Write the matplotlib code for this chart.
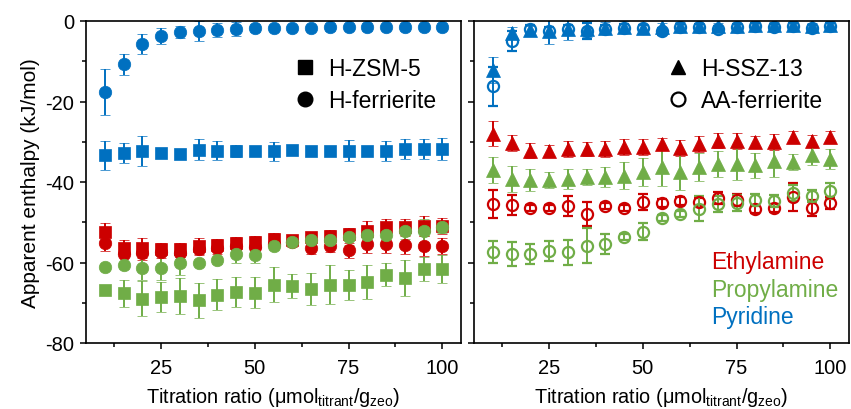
import matplotlib
matplotlib.use("Agg")
import matplotlib.pyplot as plt
from matplotlib.lines import Line2D

plt.rcParams['font.family'] = ['Liberation Sans', 'DejaVu Sans']
plt.rcParams['mathtext.fontset'] = 'custom'
plt.rcParams['mathtext.rm'] = 'Liberation Sans'
plt.rcParams['mathtext.it'] = 'Liberation Sans:italic'
plt.rcParams['axes.unicode_minus'] = False

RED = '#CC0000'
GREEN = '#70AD47'
BLUE = '#0070C0'

x = [10, 15, 20, 25, 30, 35, 40, 45, 50, 55, 60, 65, 70, 75, 80, 85, 90, 95, 100]

# ---- Left panel: H-ZSM-5 (squares) and H-ferrierite (circles)
pyr_hfer = [-17.7, -10.8, -5.7, -3.8, -2.8, -2.4, -2.2, -2.0, -1.7, -1.7, -1.7, -1.7, -1.5, -1.5, -1.4, -1.5, -1.4, -1.5, -1.4]
pyr_hfer_err = [5.7, 2.6, 2.4, 2.0, 1.5, 2.5, 1.7, 1.8, 1.0, 0.8, 0.8, 0.8, 1.0, 0.8, 1.0, 0.8, 1.0, 0.8, 0.8]
pyr_zsm = [-33.4, -32.8, -32.3, -32.8, -33.0, -32.0, -32.2, -32.2, -32.4, -32.4, -32.0, -32.2, -32.4, -32.2, -32.3, -32.2, -31.9, -31.8, -31.8]
pyr_zsm_err = [3.7, 2.5, 3.8, 0.8, 1.0, 2.6, 2.3, 1.5, 0.8, 2.4, 1.0, 0.7, 1.2, 2.6, 1.0, 2.5, 2.5, 2.5, 2.8]
eth_zsm = [-52.3, -56.5, -56.3, -56.6, -56.6, -55.9, -55.6, -55.1, -54.8, -54.1, -54.5, -53.7, -53.4, -52.9, -52.2, -51.3, -51.1, -50.9, -50.9]
eth_zsm_err = [2.0, 2.0, 2.5, 1.5, 1.5, 2.0, 1.5, 1.5, 1.5, 1.5, 1.2, 1.0, 1.5, 1.5, 2.5, 2.0, 2.0, 2.5, 2.0]
eth_hfer = [-55.2, -58.0, -57.7, -57.5, -57.6, -56.6, -56.4, -56.0, -56.2, -55.4, -54.9, -56.4, -55.8, -57.0, -55.5, -55.5, -55.6, -55.8, -55.9]
eth_hfer_err = [2.0, 1.8, 1.8, 1.5, 1.5, 1.5, 1.5, 1.5, 1.5, 1.2, 1.2, 1.5, 1.5, 1.8, 2.2, 2.2, 2.2, 2.5, 2.0]
pro_zsm = [-66.9, -67.7, -69.0, -68.6, -68.3, -69.4, -68.0, -67.3, -67.5, -65.5, -65.8, -66.5, -65.5, -65.5, -64.8, -63.0, -63.9, -61.7, -61.7]
pro_zsm_err = [1.0, 3.4, 4.4, 3.8, 4.5, 4.4, 3.9, 3.7, 3.9, 4.3, 2.9, 4.0, 4.9, 3.7, 4.3, 2.9, 4.4, 3.0, 3.5]
pro_hfer = [-61.1, -60.7, -61.4, -61.3, -60.0, -60.0, -59.5, -58.0, -58.1, -55.8, -54.8, -54.4, -54.3, -53.7, -53.1, -53.2, -52.2, -52.1, -51.2]
pro_hfer_err = [0.8, 0.8, 3.0, 3.0, 3.2, 0.8, 0.8, 2.0, 2.0, 1.0, 0.8, 1.0, 2.0, 2.0, 2.0, 2.0, 2.0, 2.8, 1.5]

# ---- Right panel: H-SSZ-13 (triangles) and AA-ferrierite (open circles)
pyr_ssz = [-12.1, -3.0, -2.2, -2.6, -2.0, -2.0, -1.8, -1.6, -1.8, -1.6, -1.3, -1.3, -1.3, -1.3, -1.1, -1.1, -1.1, -1.3, -1.1]
pyr_ssz_err = [3.2, 1.5, 1.0, 3.0, 2.8, 2.0, 1.5, 1.5, 1.0, 1.0, 1.0, 0.8, 0.8, 0.8, 0.8, 0.8, 0.8, 0.8, 0.8]
pyr_aafer = [-16.2, -4.9, -2.0, -2.4, -2.0, -2.4, -2.0, -1.8, -1.8, -2.6, -1.6, -1.6, -2.0, -1.6, -1.3, -1.6, -1.3, -1.8, -1.3]
pyr_aafer_err = [4.8, 2.5, 1.0, 1.0, 1.0, 2.0, 1.0, 1.0, 0.8, 0.8, 0.8, 0.8, 0.8, 0.8, 0.8, 0.8, 0.8, 0.8, 0.8]
eth_ssz = [-28.0, -30.3, -32.2, -32.2, -31.8, -31.8, -31.8, -31.3, -31.3, -30.5, -31.6, -30.5, -29.7, -29.9, -30.1, -30.1, -28.9, -29.7, -28.9]
eth_ssz_err = [3.1, 2.0, 1.9, 1.5, 2.0, 1.8, 2.0, 2.0, 2.0, 1.5, 2.0, 2.0, 1.8, 2.0, 1.5, 2.0, 1.5, 1.5, 1.5]
pro_ssz = [-37.1, -39.2, -39.5, -39.6, -39.2, -38.8, -38.8, -38.4, -37.5, -36.3, -37.5, -36.3, -35.5, -35.5, -35.9, -34.7, -35.1, -33.4, -34.2]
pro_ssz_err = [3.2, 3.2, 2.7, 2.0, 2.5, 2.0, 2.5, 3.3, 3.5, 4.6, 4.5, 3.5, 3.3, 4.0, 3.0, 4.0, 2.0, 2.5, 2.5]
eth_aafer = [-45.4, -45.7, -46.5, -46.5, -46.0, -47.9, -46.0, -46.5, -45.0, -45.2, -44.8, -45.0, -44.0, -44.5, -46.6, -46.5, -43.8, -46.5, -45.2]
eth_aafer_err = [3.5, 2.5, 0.8, 0.8, 2.5, 3.0, 0.8, 0.8, 2.0, 1.0, 1.0, 1.0, 1.5, 1.5, 1.0, 1.0, 3.5, 2.0, 1.5]
pro_aafer = [-57.4, -57.8, -57.8, -57.2, -57.5, -55.8, -55.3, -53.7, -52.3, -49.0, -47.9, -46.6, -45.4, -45.2, -44.5, -44.8, -42.8, -43.5, -42.3]
pro_aafer_err = [2.8, 3.0, 2.5, 2.5, 3.0, 4.3, 2.5, 0.8, 2.0, 0.8, 0.8, 3.0, 2.0, 2.0, 1.5, 1.5, 2.0, 1.5, 2.0]

legend_left = ['H-ZSM-5', 'H-ferrierite']
legend_right = ['H-SSZ-13', 'AA-ferrierite']
titrants = ['Ethylamine', 'Propylamine', 'Pyridine']
titrant_colors = [RED, GREEN, BLUE]

xticks = [25, 50, 75, 100]
yticks = [0, -20, -40, -60, -80]

W, H = 851, 410
fig = plt.figure(figsize=(W / 100, H / 100), dpi=100)
ax1 = fig.add_axes([86 / W, 66 / H, 375 / W, 322 / H])
ax2 = fig.add_axes([474 / W, 66 / H, 375 / W, 322 / H])

ekw = dict(linestyle='none', elinewidth=1.4, capsize=3.5, capthick=1.4)


def filled(ax, y, e, color, marker, ms):
    ax.errorbar(x, y, yerr=e, marker=marker, ms=ms, color=color, mfc=color,
                mec=color, mew=0.5, ecolor=color, **ekw)


def hollow(ax, y, e, color, ms):
    ax.errorbar(x, y, yerr=e, marker='o', ms=ms, color=color, mfc='none',
                mec=color, mew=1.6, ecolor=color, **ekw)


# left panel
filled(ax1, eth_zsm, eth_zsm_err, RED, 's', 8.5)
filled(ax1, eth_hfer, eth_hfer_err, RED, 'o', 9)
filled(ax1, pro_zsm, pro_zsm_err, GREEN, 's', 8.5)
filled(ax1, pro_hfer, pro_hfer_err, GREEN, 'o', 9)
filled(ax1, pyr_zsm, pyr_zsm_err, BLUE, 's', 8.5)
filled(ax1, pyr_hfer, pyr_hfer_err, BLUE, 'o', 9)

# right panel
filled(ax2, eth_ssz, eth_ssz_err, RED, '^', 9.5)
filled(ax2, pro_ssz, pro_ssz_err, GREEN, '^', 9.5)
filled(ax2, pyr_ssz, pyr_ssz_err, BLUE, '^', 9.5)
hollow(ax2, eth_aafer, eth_aafer_err, RED, 8)
hollow(ax2, pro_aafer, pro_aafer_err, GREEN, 8)
hollow(ax2, pyr_aafer, pyr_aafer_err, BLUE, 8)

xlabel = r'Titration ratio (μmol$_{\mathregular{titrant}}$/g$_{\mathregular{zeo}}$)'
for ax in (ax1, ax2):
    ax.set_xlim(5, 105)
    ax.set_ylim(-80, 0)
    ax.set_xticks(xticks)
    ax.set_xticks([12.5, 37.5, 62.5, 87.5], minor=True)
    ax.set_yticks(yticks)
    ax.set_yticks([-10, -30, -50, -70], minor=True)
    ax.tick_params(which='major', direction='out', length=4.5, width=1.1, labelsize=14.5, pad=4)
    ax.tick_params(axis='x', which='major', pad=6)
    ax.tick_params(which='minor', direction='out', length=3, width=1.1)
    for s in ax.spines.values():
        s.set_linewidth(1.2)
    ax.set_xlabel(xlabel, fontsize=14.3, labelpad=6)

ax2.tick_params(axis='y', which='both', labelleft=False)
ax1.set_ylabel('Apparent enthalpy (kJ/mol)', fontsize=15, labelpad=4)

lh1 = [Line2D([], [], ls='none', marker='s', ms=9.5, color='black'),
       Line2D([], [], ls='none', marker='o', ms=10.5, color='black')]
lh2 = [Line2D([], [], ls='none', marker='^', ms=10.5, color='black'),
       Line2D([], [], ls='none', marker='o', ms=10, mfc='none', mec='black', mew=1.6)]
for ax, hs, labs, xa in ((ax1, lh1, legend_left, 0.553), (ax2, lh2, legend_right, 0.513)):
    ax.legend(hs, labs, loc='center left', bbox_to_anchor=(xa, 0.803), frameon=False,
              fontsize=16.5, handlelength=1.0, handletextpad=0.5, labelspacing=0.42,
              borderpad=0, borderaxespad=0)

for lab, col, yy in zip(titrants, titrant_colors, [0.252, 0.166, 0.083]):
    ax2.text(0.632, yy, lab, color=col, fontsize=16.5, transform=ax2.transAxes,
             ha='left', va='center')

fig.savefig('out.png', dpi=100)
